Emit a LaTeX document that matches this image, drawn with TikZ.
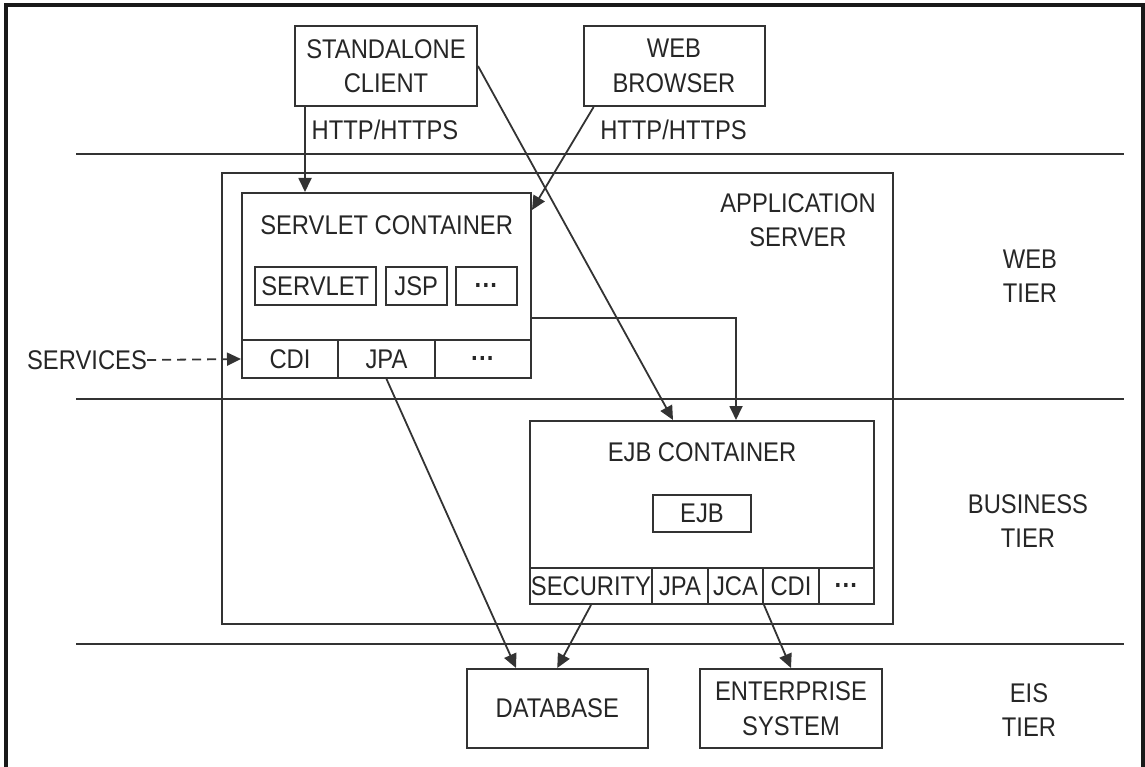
\documentclass[tikz,border=0pt]{standalone}
\usepackage{fontspec}
\setmainfont{Liberation Sans}[FakeStretch=0.88]
\usetikzlibrary{arrows.meta,calc}
\definecolor{ln}{HTML}{333333}
\definecolor{tx}{HTML}{262626}
\newcommand{\mydots}{\raisebox{-8.5pt}[0pt][0pt]{\textbf{···}}}
\begin{document}
\begin{tikzpicture}[x=1pt,y=-1pt,
  font=\fontsize{27}{34.5}\selectfont,
  box/.style={draw=ln, line width=2pt, inner sep=0pt, text=tx, align=center},
  lbl/.style={text=tx, align=center, inner sep=0pt},
  conn/.style={draw=ln, line width=1.8pt},
  arr/.style={conn, -{Triangle[length=14pt,width=13pt]}}]
\useasboundingbox (0,0) rectangle (1145,767);
% frame
\draw[line width=4pt, draw=black!90] (6,767) -- (6,5) -- (1143,5) -- (1143,767);
% tier lines
\draw[conn] (76,154) -- (1124,154);
\draw[conn] (76,399) -- (1124,399);
\draw[conn] (76,644) -- (1124,644);
% top clients
\node[box, minimum width=182pt, minimum height=80pt] (sc) at (386,66) {STANDALONE\\CLIENT};
\node[box, minimum width=181pt, minimum height=80pt] (wb) at (674,66) {WEB\\BROWSER};
\node[lbl] (h1) at (385,130) {HTTP/HTTPS};
\node[lbl] (h2) at (673.5,130) {HTTP/HTTPS};
% application server
\node[box, minimum width=671pt, minimum height=451pt] (as) at (557.5,398.5) {};
\node[lbl] (asl) at (798,220) {APPLICATION\\SERVER};
% servlet container
\node[box, minimum width=289.4pt, minimum height=185pt] (sv) at (386.3,285.5) {};
\node[lbl] (svl) at (386.6,225) {SERVLET CONTAINER};
\node[box, minimum width=121.5pt, minimum height=38pt] (servlet) at (315.25,286) {SERVLET};
\node[box, minimum width=60.5pt, minimum height=38pt] (jsp) at (416.25,286) {JSP};
\node[box, minimum width=61pt, minimum height=38pt] (svd) at (486.5,286) {\mydots};
\node[box, minimum width=96pt, minimum height=38pt] (cdi1) at (290,359) {CDI};
\node[box, minimum width=97pt, minimum height=38pt] (jpa1) at (386.5,359) {JPA};
\node[box, minimum width=96pt, minimum height=38pt] (svd2) at (483,359) {\mydots};
\node[lbl] (services) at (87,360) {SERVICES};
% EJB container
\node[box, minimum width=344pt, minimum height=183pt] (ejb) at (702,512.5) {};
\node[lbl] (ejbl) at (702,452) {EJB CONTAINER};
\node[box, minimum width=98pt, minimum height=37pt] (ejbb) at (702,513.5) {EJB};
\node[box, minimum width=122pt, minimum height=36pt] (sec) at (591,586) {SECURITY};
\node[box, minimum width=56pt, minimum height=36pt] (jpa2) at (680,586) {JPA};
\node[box, minimum width=55pt, minimum height=36pt] (jca) at (735.5,586) {JCA};
\node[box, minimum width=56pt, minimum height=36pt] (cdi2) at (791,586) {CDI};
\node[box, minimum width=55pt, minimum height=36pt] (ejd) at (846.5,586) {\mydots};
% EIS
\node[box, minimum width=181.5pt, minimum height=79pt] (db) at (557.25,708.5) {DATABASE};
\node[box, minimum width=182pt, minimum height=79pt] (es) at (791,708.5) {ENTERPRISE\\SYSTEM};
% tier labels
\node[lbl] (wt) at (1030,276) {WEB\\TIER};
\node[lbl] (bt) at (1028,521) {BUSINESS\\TIER};
\node[lbl] (et) at (1029,710) {EIS\\TIER};
% helper coordinates
\coordinate (c1) at (305,0);
\coordinate (c2) at (593.6,0);
\coordinate (c3) at (0,210);
\coordinate (c4) at (673,0);
\coordinate (c5) at (0,318);
\coordinate (c6) at (736,0);
\coordinate (c7) at (516,0);
% connectors
\draw[arr] (sc.south -| c1) -- (sv.north -| c1);
\draw[arr] (wb.south -| c2) -- (sv.east |- c3);
\draw[arr] (sc.east) -- (ejb.north -| c4);
\draw[arr] (sv.east |- c5) -| (ejb.north -| c6);
\draw[arr, dash pattern=on 9pt off 6pt] (services.east) -- (cdi1.west);
\draw[arr] (jpa1.south) -- (db.north -| c7);
\draw[arr] (sec.south) -- (db.north);
\draw[arr] (jca.south east) -- (es.north);
\end{tikzpicture}
\end{document}
